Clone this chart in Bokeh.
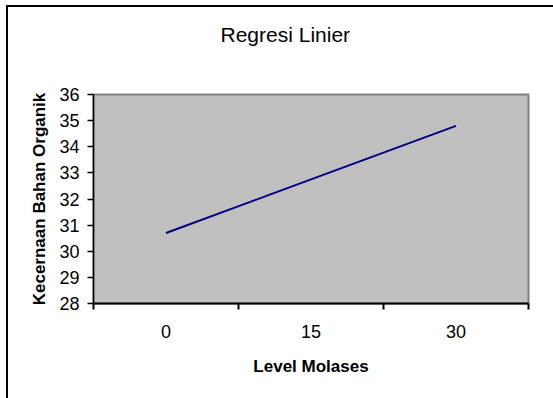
from bokeh.plotting import figure
from bokeh.models import Range1d, FixedTicker, LinearAxis
from bokeh.embed import file_html
from bokeh.resources import INLINE

# Data
categories = ["0", "15", "30"]
values = [30.7, 32.75, 34.8]
y_ticks = [28, 29, 30, 31, 32, 33, 34, 35, 36]
title_text = "Regresi Linier"
x_title = "Level Molases"
y_title = "Kecernaan Bahan Organik"

FONT = "Liberation Sans"

xs = [i + 0.5 for i in range(len(categories))]

p = figure(width=553, height=398, output_backend="svg", toolbar_location=None,
           x_range=Range1d(0, len(categories)), y_range=Range1d(y_ticks[0], y_ticks[-1]),
           min_border_left=93, min_border_right=25, min_border_top=94, min_border_bottom=95)

# Outer chart border on the left and top only (right/bottom edges lie beyond the view),
# drawn as inset shadows behind a transparent canvas border area
p.styles = {"background-color": "white",
            "box-shadow": "inset 6px 5px 0 0 white, inset 8px 7px 0 0 black"}

p.background_fill_color = "#C0C0C0"
p.border_fill_color = None
p.outline_line_color = "#808080"
p.outline_line_width = 2
p.grid.visible = False

p.line(xs, values, line_color="#000080", line_width=2)

# Invisible spacer between the plot area and the title
spacer = LinearAxis(ticker=FixedTicker(ticks=[xs[1]], minor_ticks=[]),
                    major_label_overrides={xs[1]: ""},
                    major_label_text_font_size="0px", major_label_standoff=0,
                    axis_line_alpha=0, major_tick_out=49, major_tick_in=0,
                    major_tick_line_alpha=0, minor_tick_out=0, minor_tick_in=0,
                    minor_tick_line_alpha=0)
p.add_layout(spacer, "above")

# Title
p.title.text = title_text
p.title.text_font = FONT
p.title.text_font_size = "21px"
p.title.text_font_style = "normal"
p.title.text_color = "black"
p.title.align = "left"
p.title.offset = 127
p.title.standoff = 0

# X axis
xa = p.below[0]
xa.ticker = FixedTicker(ticks=xs, minor_ticks=list(range(len(categories) + 1)))
xa.major_label_overrides = {x: c for x, c in zip(xs, categories)}
xa.major_tick_out = 0
xa.major_tick_in = 0
xa.minor_tick_out = 6
xa.minor_tick_in = 0
xa.minor_tick_line_color = "black"
xa.minor_tick_line_width = 2
xa.axis_line_color = "black"
xa.axis_line_width = 2
xa.major_label_text_font = FONT
xa.major_label_text_font_size = "18px"
xa.major_label_text_color = "black"
xa.major_label_standoff = 15
xa.axis_label = x_title
xa.axis_label_text_font = FONT
xa.axis_label_text_font_size = "17px"
xa.axis_label_text_font_style = "bold"
xa.axis_label_text_color = "black"
xa.axis_label_standoff = 16

# Y axis
ya = p.yaxis[0]
ya.ticker = FixedTicker(ticks=y_ticks, minor_ticks=[])
ya.major_tick_out = 6
ya.major_tick_in = 0
ya.major_tick_line_color = "black"
ya.major_tick_line_width = 1.5
ya.axis_line_color = "black"
ya.axis_line_width = 1.5
ya.major_label_text_font = FONT
ya.major_label_text_font_size = "18px"
ya.major_label_text_color = "black"
ya.major_label_standoff = 8
ya.axis_label = y_title
ya.axis_label_text_font = FONT
ya.axis_label_text_font_size = "17px"
ya.axis_label_text_font_style = "bold"
ya.axis_label_text_color = "black"
ya.axis_label_standoff = 7

open("out.html", "w").write(file_html(p, INLINE))
